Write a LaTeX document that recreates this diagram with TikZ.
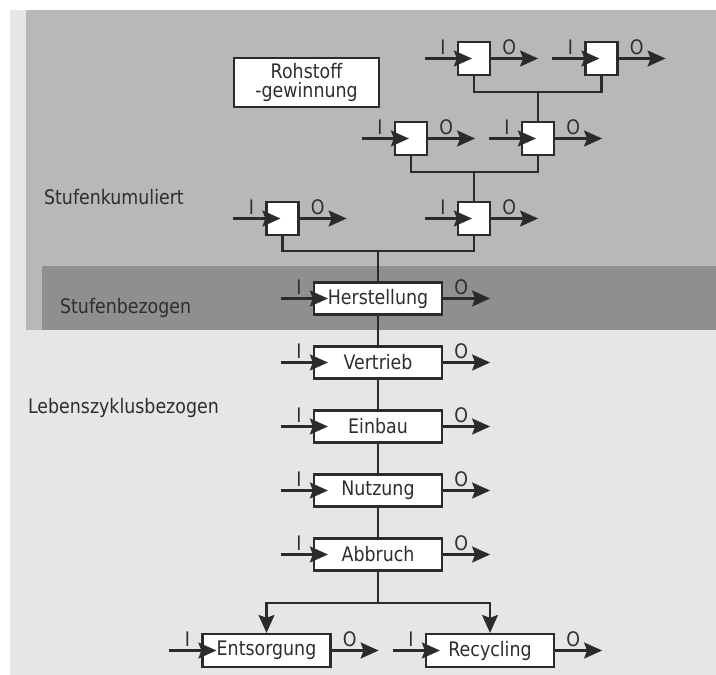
\documentclass[tikz,border=0pt]{standalone}
\usepackage{fontspec}
\setmainfont[FakeStretch=0.87]{DejaVu Sans}
\usetikzlibrary{arrows.meta}

\definecolor{zoneall}{HTML}{E6E6E6}
\definecolor{zonecum}{HTML}{B8B8B8}
\definecolor{zonestage}{HTML}{8F8F8F}
\definecolor{linegray}{HTML}{2B2B2B}
\definecolor{textgray}{HTML}{2E2E2E}

\begin{document}
\begin{tikzpicture}[x=1pt,y=-1pt,line width=2.2pt,
        every node/.append style={font=\fontsize{20}{22}\selectfont,text=textgray},
        stagebox/.style={draw=linegray,fill=white,minimum width=128pt,minimum height=32pt,inner sep=0pt},
        unitbox/.style={draw=linegray,fill=white,minimum width=32pt,minimum height=33pt,inner sep=0pt},
        flow/.style={draw=linegray,-{Stealth[length=18pt,width=16pt,inset=3pt]}},
        link/.style={draw=linegray},
        iolabel/.style={inner sep=0pt},
        zonelabel/.style={anchor=west,inner sep=0pt}]
        \useasboundingbox (0,0) rectangle (716,675);
        % zones
        \fill [zoneall] (10,10) rectangle (716,675);
        \fill [zonecum] (26,10) rectangle (716,330);
        \fill [zonestage] (42,266) rectangle (716,330);
        \node [zonelabel] (cum) at (43,197) {Stufenkumuliert};
        \node [zonelabel] (stage) at (59,308) {Stufenbezogen};
        \node [zonelabel] (life) at (27,408) {Lebenszyklusbezogen};
        % upstream units
        \node [stagebox,minimum width=145pt,minimum height=49pt,align=center] (raw) at (306.5,82.5) {Rohstoff\\[-3pt]-gewinnung};
        \node [unitbox] (a1) at (474,58.5) {};
        \node [unitbox] (a2) at (601.5,58.5) {};
        \node [unitbox] (b1) at (411,138.5) {};
        \node [unitbox] (b2) at (538,138.5) {};
        \node [unitbox] (c1) at (282.5,218.5) {};
        \node [unitbox] (c2) at (474,218.5) {};
        % life cycle
        \node [stagebox] (h) at (378,298.5) {Herstellung};
        \node [stagebox] (v) at (378,362.5) {Vertrieb};
        \node [stagebox] (e) at (378,426.5) {Einbau};
        \node [stagebox] (n) at (378,490.5) {Nutzung};
        \node [stagebox] (ab) at (378,554.5) {Abbruch};
        \node [stagebox,minimum height=33pt] (en) at (266.5,650.5) {Entsorgung};
        \node [stagebox,minimum height=33pt] (re) at (490,650.5) {Recycling};
        % joins
        \coordinate (j1) at (538,92);
        \coordinate (j2) at (474,172);
        \coordinate (j3) at (378,251);
        \coordinate (j4) at (378,603);
        \draw [link] (a1.south) |- (j1) -| (a2.south);
        \draw [link] (j1) -- (b2.north);
        \draw [link] (b1.south) |- (j2) -| (b2.south);
        \draw [link] (j2) -- (c2.north);
        \draw [link] (c1.south) |- (j3) -| (c2.south);
        \draw [link] (j3) -- (h.north);
        \draw [link] (h.south) -- (v.north);
        \draw [link] (v.south) -- (e.north);
        \draw [link] (e.south) -- (n.north);
        \draw [link] (n.south) -- (ab.north);
        \draw [link] (ab.south) -- (j4);
        \draw [flow] (j4) -| (en.north);
        \draw [flow] (j4) -| (re.north);
        % inputs and outputs
        \foreach \b in {a1,a2,b1,b2,c1,c2,h,v,e,n,ab,en,re} {
                \coordinate (\b-in) at ([shift={(-32,0)}]\b.west);
                \coordinate (\b-out) at ([shift={(47,0)}]\b.east);
                \draw [flow] (\b-in) -- ([shift={(15,0)}]\b.west);
                \draw [flow] (\b.east) -- (\b-out);
                \node [iolabel] (\b-i) at ([shift={(-14,-11)}]\b.west) {I};
                \node [iolabel] (\b-o) at ([shift={(18,-11)}]\b.east) {O};
        }
\end{tikzpicture}
\end{document}
